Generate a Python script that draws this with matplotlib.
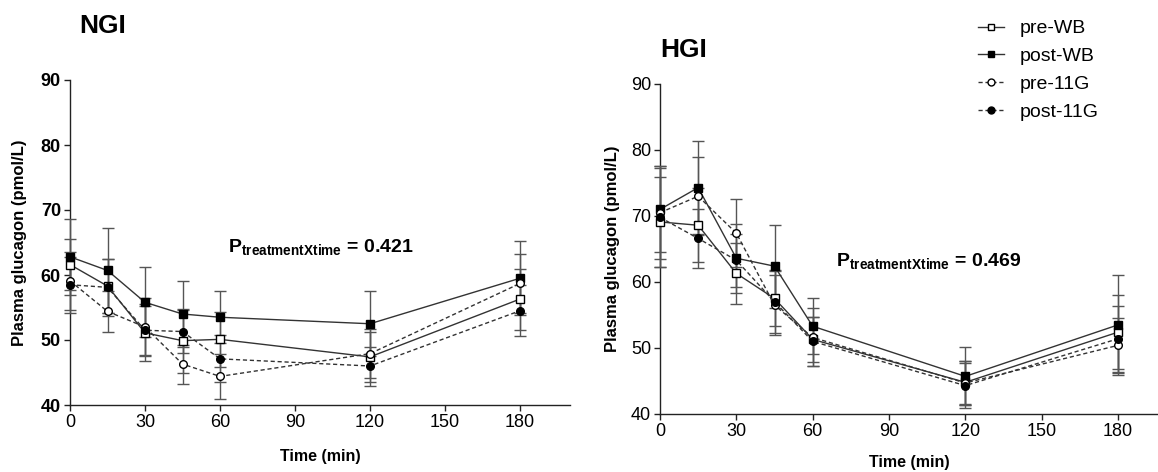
import matplotlib
matplotlib.use('Agg')
import matplotlib.pyplot as plt
from matplotlib.lines import Line2D

plt.rcParams['font.family'] = ['Liberation Sans', 'DejaVu Sans']
plt.rcParams['mathtext.fontset'] = 'custom'
plt.rcParams['mathtext.rm'] = 'Liberation Sans'
plt.rcParams['mathtext.bf'] = 'Liberation Sans:bold'

# time points (min)
times = [0, 15, 30, 45, 60, 120, 180]

# NGI means and SEM
ngi_pre_wb = [61.6, 58.3, 51.1, 49.9, 50.1, 47.4, 56.3]
ngi_post_wb = [62.8, 60.7, 55.8, 54.0, 53.5, 52.5, 59.5]
ngi_pre_11g = [59.1, 54.4, 52.0, 46.3, 44.4, 47.9, 58.7]
ngi_post_11g = [58.5, 58.1, 51.5, 51.3, 47.1, 46.0, 54.5]
ngi_pre_wb_err = [3.9, 4.2, 4.4, 4.9, 4.2, 3.8, 4.7]
ngi_post_wb_err = [5.8, 6.6, 5.4, 5.1, 4.0, 5.0, 5.7]
ngi_pre_11g_err = [4.5, 3.1, 4.5, 3.0, 3.4, 3.8, 4.6]
ngi_post_11g_err = [4.3, 4.4, 3.8, 3.3, 3.6, 3.0, 3.9]

# HGI means and SEM
hgi_pre_wb = [69.1, 68.6, 61.3, 57.5, 51.3, 44.8, 52.4]
hgi_post_wb = [71.0, 74.3, 63.6, 62.4, 53.3, 45.7, 53.5]
hgi_pre_11g = [70.5, 73.0, 67.4, 56.5, 51.6, 44.7, 50.4]
hgi_post_11g = [69.8, 66.6, 63.3, 57.0, 51.0, 44.3, 51.4]
hgi_pre_wb_err = [6.8, 5.6, 4.6, 4.2, 3.4, 3.3, 5.6]
hgi_post_wb_err = [6.5, 7.1, 5.2, 6.3, 4.2, 4.4, 7.6]
hgi_pre_11g_err = [7.0, 5.9, 5.1, 4.5, 4.4, 3.4, 4.2]
hgi_post_11g_err = [7.5, 4.5, 4.0, 4.8, 3.7, 3.4, 5.0]

labels = ['pre-WB', 'post-WB', 'pre-11G', 'post-11G']
styles = [
    dict(marker='s', mfc='white', ls='-'),
    dict(marker='s', mfc='black', ls='-'),
    dict(marker='o', mfc='white', ls=(0, (3, 2))),
    dict(marker='o', mfc='black', ls=(0, (3, 2))),
]
line_col = '#333333'

fig = plt.figure(figsize=(11.58, 4.72), dpi=100)
ax1 = fig.add_axes([70 / 1158, 67 / 472, 500 / 1158, 325 / 472])
ax2 = fig.add_axes([660 / 1158, 58 / 472, 498 / 1158, 330 / 472])


def draw_panel(ax, series, errs, bold_y, xmax, xpad, ypad):
    for vals, err, st in zip(series, errs, styles):
        ax.errorbar(times, vals, yerr=err, color=line_col, ecolor='#555555',
                    elinewidth=1, capsize=4, capthick=1, lw=1,
                    ls=st['ls'], marker=st['marker'], ms=5.5,
                    mfc=st['mfc'], mec='black', mew=1, clip_on=False, zorder=3)
    ax.set_xlim(0, xmax)
    ax.set_ylim(40, 90)
    ax.set_xticks([0, 30, 60, 90, 120, 150, 180])
    ax.set_yticks([40, 50, 60, 70, 80, 90])
    for s in ['top', 'right']:
        ax.spines[s].set_visible(False)
    for s in ['left', 'bottom']:
        ax.spines[s].set_color('#222222')
        ax.spines[s].set_linewidth(1)
    ax.tick_params(direction='out', length=4.5, width=1, color='#222222',
                   labelsize=13, pad=2)
    if bold_y:
        for t in ax.get_yticklabels():
            t.set_fontweight('bold')
    ax.set_xlabel('Time (min)', fontsize=11.5, fontweight='bold', labelpad=xpad)
    ax.set_ylabel('Plasma glucagon (pmol/L)', fontsize=12, fontweight='bold',
                  labelpad=ypad)


draw_panel(ax1, [ngi_pre_wb, ngi_post_wb, ngi_pre_11g, ngi_post_11g],
           [ngi_pre_wb_err, ngi_post_wb_err, ngi_pre_11g_err, ngi_post_11g_err],
           True, 200, 13, 10)
draw_panel(ax2, [hgi_pre_wb, hgi_post_wb, hgi_pre_11g, hgi_post_11g],
           [hgi_pre_wb_err, hgi_post_wb_err, hgi_pre_11g_err, hgi_post_11g_err],
           False, 180 * 498 / 458, 11, 8)

ax1.text(63, 63.6, r'$\mathbf{P_{treatmentXtime}}$ = 0.421', fontsize=14,
         fontweight='bold', ha='left', va='baseline')
ax2.text(69, 62.4, r'$\mathbf{P_{treatmentXtime}}$ = 0.469', fontsize=14,
         fontweight='bold', ha='left', va='baseline')

fig.text(79 / 1158, 1 - 33 / 472, 'NGI', fontsize=19, fontweight='bold')
fig.text(660 / 1158, 1 - 57 / 472, 'HGI', fontsize=19, fontweight='bold')

handles = [Line2D([], [], color=line_col, lw=1, ls=st['ls'], marker=st['marker'],
                  ms=5, mfc=st['mfc'], mec='black') for st in styles]
fig.legend(handles, labels, loc='upper left', bbox_to_anchor=(968 / 1158, 1 - 10 / 472),
           frameon=False, fontsize=14, handlelength=1.35, handletextpad=0.8,
           labelspacing=0.52, borderpad=0)

fig.savefig('out.png', dpi=100)
